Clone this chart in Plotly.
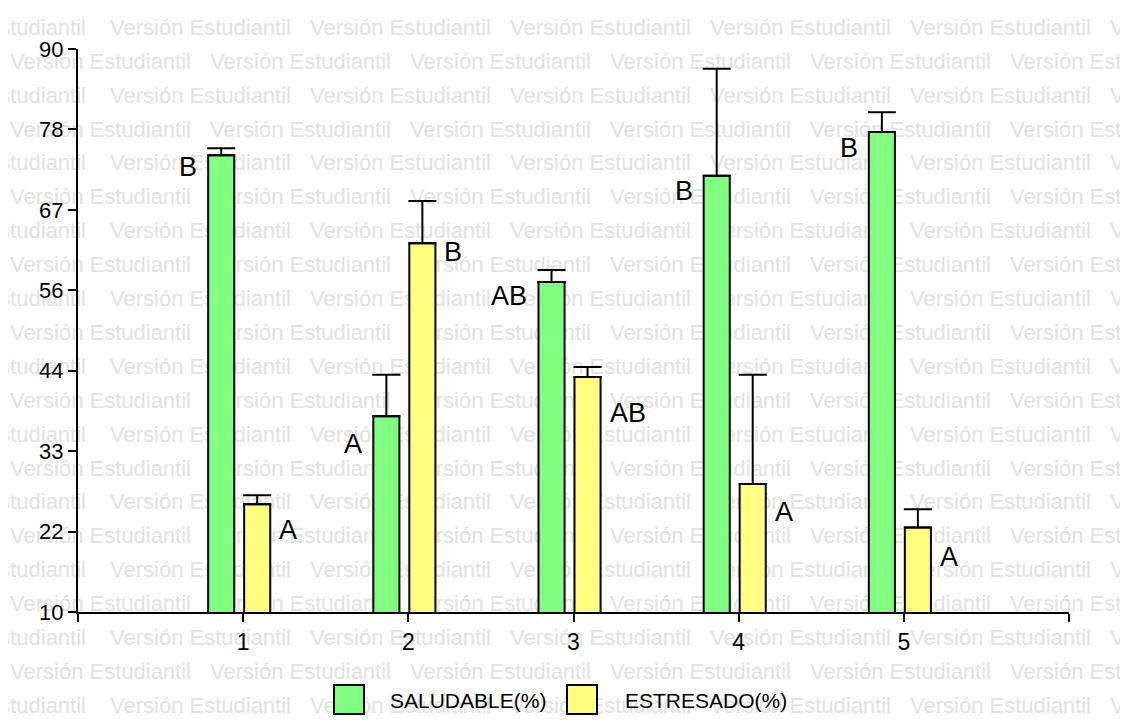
import plotly.graph_objects as go

# ---------------- data ----------------
categories = [1, 2, 3, 4, 5]
saludable = [74.9, 37.8, 56.9, 72.0, 78.2]
saludable_err = [1.0, 5.9, 1.7, 15.2, 2.8]
estresado = [25.3, 62.4, 43.4, 28.2, 22.0]
estresado_err = [1.3, 6.0, 1.4, 15.5, 2.6]
saludable_letters = ["B", "A", "AB", "B", "B"]
estresado_letters = ["A", "B", "AB", "A", "A"]
saludable_letter_y = [73.2, 33.9, 54.9, 69.8, 76.0]
estresado_letter_y = [21.7, 61.2, 38.3, 24.2, 17.8]
series_names = ["SALUDABLE(%)", "ESTRESADO(%)"]
y_tick_text = ["10", "22", "33", "44", "56", "67", "78", "90"]
x_tick_text = ["", "1", "2", "3", "4", "5", ""]
watermark = "Versión Estudiantil"

# ---------------- layout constants ----------------
W, H = 1128, 720
OFF = 8                      # page body margin of the browser
PL, PR, PT, PB = 78, 1069, 49, 612   # plot area, in page pixels
FONT = "Liberation Sans Narrow, Arial Narrow, Liberation Sans, Arial, sans-serif"
GREEN = "#80ff80"
YELLOW = "#ffff80"
BAR_W = 0.158
GREEN_OFF = -0.212
YELLOW_OFF = 0.006
WM_SIZE = 22
WM_WIDTH = 176


def px_x(px):
    return (px - OFF) / W


def px_y(py):
    return (H + OFF - py) / H


fig = go.Figure()

# watermark on a full-page pixel-space subplot, drawn beneath the bars
wx, wy, wpos = [], [], []
for k in range(21):
    base = 37 + 33.9 * k
    start = -90 if k % 2 == 0 else 10
    for n in range(7):
        s = start + 200 * n
        if s > W:
            continue
        if s < OFF:
            wx.append(s + WM_WIDTH)
            wpos.append("middle left")
        else:
            wx.append(s)
            wpos.append("middle right")
        wy.append(base - 0.35 * WM_SIZE)
fig.add_trace(go.Scatter(
    x=wx, y=wy, mode="text", text=[watermark] * len(wx),
    textposition=wpos, cliponaxis=False, hoverinfo="skip",
    textfont=dict(family=FONT, size=WM_SIZE, color="#e2e2e2"),
    showlegend=False, xaxis="x", yaxis="y"))

fig.add_trace(go.Bar(
    x=categories, y=saludable, name=series_names[0],
    width=BAR_W, offset=GREEN_OFF,
    marker=dict(color=GREEN, line=dict(color="black", width=2)),
    error_y=dict(type="data", array=saludable_err, arrayminus=[0] * 5,
                 symmetric=False, color="black", thickness=2, width=14),
    xaxis="x2", yaxis="y2", showlegend=False))
fig.add_trace(go.Bar(
    x=categories, y=estresado, name=series_names[1],
    width=BAR_W, offset=YELLOW_OFF,
    marker=dict(color=YELLOW, line=dict(color="black", width=2)),
    error_y=dict(type="data", array=estresado_err, arrayminus=[0] * 5,
                 symmetric=False, color="black", thickness=2, width=14),
    xaxis="x2", yaxis="y2", showlegend=False))

annotations = []
for c, t, y in zip(categories, saludable_letters, saludable_letter_y):
    annotations.append(dict(x=c + GREEN_OFF, y=y, xref="x2", yref="y2", text=t,
                            showarrow=False, xanchor="right", yanchor="middle",
                            xshift=-9, font=dict(family=FONT, size=27, color="black")))
for c, t, y in zip(categories, estresado_letters, estresado_letter_y):
    annotations.append(dict(x=c + YELLOW_OFF + BAR_W, y=y, xref="x2", yref="y2", text=t,
                            showarrow=False, xanchor="left", yanchor="middle",
                            xshift=7, font=dict(family=FONT, size=27, color="black")))

# custom legend
shapes = []
legend_boxes = [(334, 364), (567, 597)]
legend_text_x = [388, 623]
for (x0, x1), col, name, tx in zip(legend_boxes, [GREEN, YELLOW], series_names, legend_text_x):
    shapes.append(dict(type="rect", xref="paper", yref="paper",
                       x0=px_x(x0), x1=px_x(x1), y0=px_y(714), y1=px_y(685),
                       fillcolor=col, line=dict(color="black", width=2)))
    annotations.append(dict(x=px_x(tx), y=px_y(700), xref="paper", yref="paper",
                            text=name, showarrow=False, xanchor="left", yanchor="middle",
                            font=dict(family=FONT, size=21, color="black")))

y_tick_vals = [10 + 80 / 7 * i for i in range(8)]

fig.update_layout(
    width=W, height=H,
    margin=dict(l=0, r=0, t=0, b=0, pad=0, autoexpand=False),
    paper_bgcolor="white", plot_bgcolor="rgba(0,0,0,0)",
    barmode="overlay",
    showlegend=False,
    annotations=annotations,
    shapes=shapes,
    xaxis=dict(domain=[0, 1], range=[OFF, W + OFF], visible=False, fixedrange=True),
    yaxis=dict(domain=[0, 1], range=[H + OFF, OFF], visible=False, fixedrange=True),
    xaxis2=dict(domain=[px_x(PL), px_x(PR)], anchor="y2", range=[0, 6],
                tickvals=list(range(7)), ticktext=x_tick_text,
                showline=True, linecolor="black", linewidth=2,
                ticks="outside", ticklen=8, tickwidth=2, tickcolor="black",
                showgrid=False, zeroline=False, fixedrange=True, automargin=False,
                tickfont=dict(family=FONT, size=23, color="black")),
    yaxis2=dict(domain=[px_y(PB), px_y(PT)], anchor="x2", range=[10, 90],
                tickvals=y_tick_vals, ticktext=y_tick_text,
                showline=True, linecolor="black", linewidth=2,
                ticks="outside", ticklen=8, tickwidth=2, tickcolor="black",
                showgrid=False, zeroline=False, fixedrange=True, automargin=False,
                tickfont=dict(family=FONT, size=22, color="black")),
)

fig.write_html("out.html")
